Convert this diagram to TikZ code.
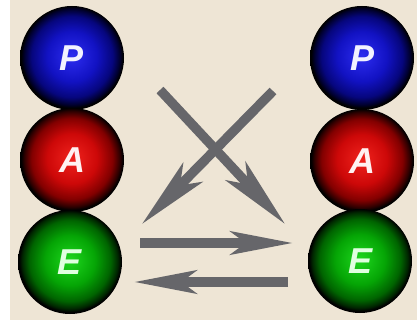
\documentclass[tikz,border=0pt]{standalone}
\usepackage{fontspec}
\setsansfont{Liberation Sans}
\usetikzlibrary{arrows.meta}
\definecolor{bgbeige}{RGB}{238,229,213}
\definecolor{arrowgray}{RGB}{102,102,106}
\definecolor{bA}{RGB}{45,45,240}\definecolor{bB}{RGB}{18,18,195}\definecolor{bC}{RGB}{6,6,125}\definecolor{bD}{RGB}{0,0,45}
\definecolor{rA}{RGB}{240,35,30}\definecolor{rB}{RGB}{205,8,8}\definecolor{rC}{RGB}{130,0,0}\definecolor{rD}{RGB}{45,0,0}
\definecolor{gA}{RGB}{30,215,30}\definecolor{gB}{RGB}{5,165,5}\definecolor{gC}{RGB}{0,100,0}\definecolor{gD}{RGB}{0,38,0}
\pgfdeclareradialshading{blueball}{\pgfpoint{0bp}{1bp}}{color(0bp)=(bA); color(12bp)=(bB); color(19.5bp)=(bC); color(23bp)=(bD); color(24.5bp)=(black); color(50bp)=(black)}
\pgfdeclareradialshading{redball}{\pgfpoint{0bp}{1bp}}{color(0bp)=(rA); color(12bp)=(rB); color(19.5bp)=(rC); color(23bp)=(rD); color(24.5bp)=(black); color(50bp)=(black)}
\pgfdeclareradialshading{greenball}{\pgfpoint{0bp}{1bp}}{color(0bp)=(gA); color(12bp)=(gB); color(19.5bp)=(gC); color(23bp)=(gD); color(24.5bp)=(black); color(50bp)=(black)}
\tikzset{
  ball/.style={circle, minimum size=104pt, inner sep=0pt,
    font=\sffamily\bfseries\itshape\fontsize{36}{36}\selectfont},
  bigarrow/.style={draw=arrowgray, line width=9.5pt, line cap=butt,
    -{Stealth[length=62pt, width=23pt, inset=15pt, fill=arrowgray]}},
  diagarrow/.style={draw=arrowgray, line width=9.5pt, line cap=butt,
    -{Stealth[length=72pt, width=27pt, inset=18pt, fill=arrowgray]}}
}
\begin{document}
\begin{tikzpicture}[x=1pt,y=-1pt]
\fill[bgbeige] (0,0) rectangle (417,320);
\fill[white] (0,0) rectangle (10,320);
\useasboundingbox (0,0) rectangle (417,320);
% left column
\node[ball, shading=blueball, text={white!95!blue}] (lP) at (72,58) {P};
\node[ball, shading=redball, text={white!95!red}] (lA) at (72,160) {A};
\node[ball, shading=greenball, text={white!88!green}] (lE) at (70,262) {E};
% right column
\node[ball, shading=blueball, text={white!95!blue}] (rP) at (362,58) {P};
\node[ball, shading=redball, text={white!95!red}] (rA) at (362,161) {A};
\node[ball, shading=greenball, text={white!88!green}] (rE) at (360,261) {E};
% arrow ends
\coordinate (x1s) at (160,90);
\coordinate (x1e) at (285,224);
\coordinate (x2s) at (273,91);
\coordinate (x2e) at (142,224);
\coordinate (h1s) at (140,243);
\coordinate (h1e) at (293,243);
\coordinate (h2s) at (288,282);
\coordinate (h2e) at (134,282);
\draw[diagarrow] (x1s) -- (x1e);
\draw[diagarrow] (x2s) -- (x2e);
\draw[bigarrow] (h1s) -- (h1e);
\draw[bigarrow] (h2s) -- (h2e);
\end{tikzpicture}
\end{document}
